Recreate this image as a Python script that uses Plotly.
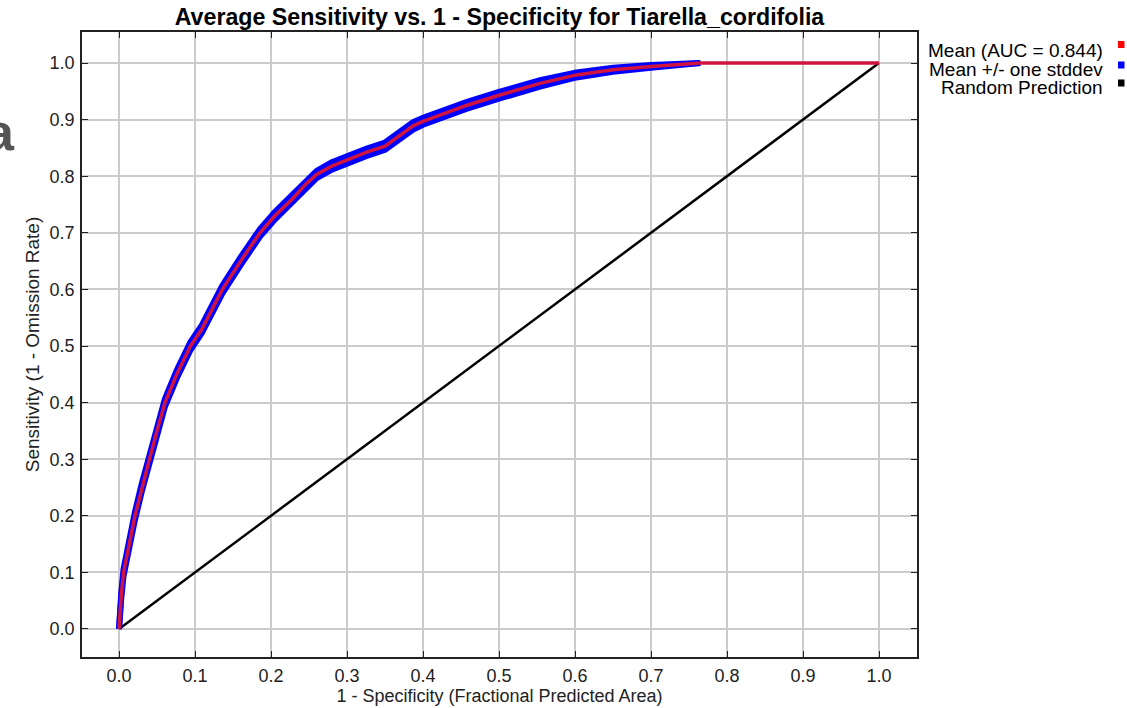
import plotly.graph_objects as go

# ---------------- data ----------------
fpr = [0.0, 0.001, 0.003, 0.006, 0.010, 0.015, 0.021, 0.030, 0.040, 0.050, 0.0605,
       0.076, 0.094, 0.109, 0.122, 0.136, 0.160, 0.1855, 0.205, 0.229, 0.245,
       0.260, 0.280, 0.300, 0.325, 0.350, 0.370, 0.387, 0.400, 0.430, 0.457,
       0.500, 0.554, 0.602, 0.650, 0.700, 0.745, 0.765, 0.800, 0.900, 1.0]
tpr_mean = [0.0, 0.03, 0.06, 0.10, 0.13, 0.16, 0.20, 0.25, 0.30, 0.35, 0.40,
            0.45, 0.50, 0.53, 0.565, 0.60, 0.65, 0.70, 0.73, 0.761, 0.785,
            0.803, 0.818, 0.829, 0.842, 0.853, 0.872, 0.889, 0.897, 0.912, 0.925,
            0.943, 0.964, 0.979, 0.988, 0.994, 0.998, 1.0, 1.0, 1.0, 1.0]
tpr_std = [0.0, 0.003, 0.005, 0.006, 0.007, 0.007, 0.007, 0.007, 0.007, 0.007, 0.007,
           0.007, 0.007, 0.007, 0.007, 0.007, 0.007, 0.0065, 0.0065, 0.0065, 0.0065,
           0.0065, 0.0065, 0.0065, 0.0065, 0.0065, 0.0065, 0.0065, 0.006, 0.006, 0.006,
           0.006, 0.0055, 0.0045, 0.0035, 0.0025, 0.001, 0.0, 0.0, 0.0, 0.0]
random_x = [0.0, 1.0]
random_y = [0.0, 1.0]

tick_vals = [0.0, 0.1, 0.2, 0.3, 0.4, 0.5, 0.6, 0.7, 0.8, 0.9, 1.0]
tick_text = ["0.0", "0.1", "0.2", "0.3", "0.4", "0.5", "0.6", "0.7", "0.8", "0.9", "1.0"]

auc = 0.844
legend_labels = [f"Mean (AUC = {auc:.3f})", "Mean +/- one stddev", "Random Prediction"]
legend_colors = ["#ff0000", "#0000ff", "#000000"]

title_text = "Average Sensitivity vs. 1 - Specificity for Tiarella_cordifolia"
x_title = "1 - Specificity (Fractional Predicted Area)"
y_title = "Sensitivity (1 - Omission Rate)"
panel_letter = "a"

# ---------------- figure ----------------
FONT = "Liberation Sans, Arial, Helvetica, sans-serif"
W, H = 1127, 708
ML, MR, MT, MB = 82, 210, 32, 51
PW, PH = W - ML - MR, H - MT - MB

# the stddev band is drawn up to the point where the spread reaches zero
last_band = next(i for i, (x, s) in enumerate(zip(fpr, tpr_std)) if x > 0.5 and s == 0.0)
band_x = fpr[:last_band + 1]
lower = [m - s for m, s in zip(tpr_mean[:last_band + 1], tpr_std[:last_band + 1])]
upper = [m + s for m, s in zip(tpr_mean[:last_band + 1], tpr_std[:last_band + 1])]

fig = go.Figure()
fig.add_trace(go.Scatter(x=random_x, y=random_y, mode="lines",
                         line=dict(color="#000000", width=2.5), showlegend=False,
                         hoverinfo="skip"))
fig.add_trace(go.Scatter(x=band_x, y=lower, mode="lines",
                         line=dict(color="#0000ff", width=6), showlegend=False))
fig.add_trace(go.Scatter(x=band_x, y=upper, mode="lines", fill="tonexty",
                         fillcolor="#0000ff",
                         line=dict(color="#0000ff", width=6), showlegend=False))
fig.add_trace(go.Scatter(x=fpr, y=tpr_mean, mode="lines",
                         line=dict(color="#d0143f", width=3.5), showlegend=False))


def px_to_paper_x(px):
    return (px - ML) / PW


def px_to_paper_y(py):
    return (H - MB - py) / PH


annotations = []
shapes = []
square_centers = [44.5, 65, 83]
text_centers = [50, 69, 87.5]
for lab, col, sy, ty in zip(legend_labels, legend_colors, square_centers, text_centers):
    annotations.append(dict(text=lab, x=px_to_paper_x(1105), y=px_to_paper_y(ty),
                            xref="paper", yref="paper", xanchor="right", yanchor="middle",
                            showarrow=False, font=dict(family=FONT, size=19, color="#000")))
    shapes.append(dict(type="rect", xref="paper", yref="paper",
                       x0=px_to_paper_x(1118), x1=px_to_paper_x(1124.5),
                       y0=px_to_paper_y(sy + 3.5), y1=px_to_paper_y(sy - 3.5),
                       fillcolor=col, line=dict(width=0)))

# cropped panel letter at the left edge
annotations.append(dict(text=f"<b>{panel_letter}</b>", x=px_to_paper_x(16.5), y=px_to_paper_y(132),
                        xref="paper", yref="paper", xanchor="right", yanchor="middle",
                        showarrow=False, font=dict(family=FONT, size=52, color="#555555")))

axis_common = dict(
    tickmode="array", tickvals=tick_vals, ticktext=tick_text,
    showgrid=True, gridcolor="#cccccc", gridwidth=1.5, zeroline=False,
    showline=True, linecolor="#222222", linewidth=1.5, mirror="ticks",
    ticks="inside", ticklen=6, tickcolor="#222222", tickwidth=1,
    tickfont=dict(family=FONT, size=18, color="#222222"),
    automargin=False,
)

fig.update_layout(
    width=W, height=H,
    margin=dict(l=ML, r=MR, t=MT, b=MB, pad=0),
    paper_bgcolor="white", plot_bgcolor="white",
    title=dict(text=f"<b>{title_text}</b>", x=(ML + PW / 2) / W, xanchor="center",
               y=1 - 17 / H, yanchor="middle", automargin=False,
               font=dict(family=FONT, size=23.2, color="#000")),
    xaxis=dict(range=[-0.0487, 1.05], ticklabelstandoff=2,
               title=dict(text=x_title, standoff=1,
                          font=dict(family=FONT, size=18, color="#222")), **axis_common),
    yaxis=dict(range=[-0.0495, 1.0548], ticklabelstandoff=2,
               title=dict(text=y_title, standoff=5,
                          font=dict(family=FONT, size=19, color="#222")), **axis_common),
    annotations=annotations, shapes=shapes, showlegend=False,
)

# remove the browser's default 8px page margin so the figure fills the window
fig.write_html("out.html", config={"displayModeBar": False},
               post_script="document.body.style.margin='0';")
